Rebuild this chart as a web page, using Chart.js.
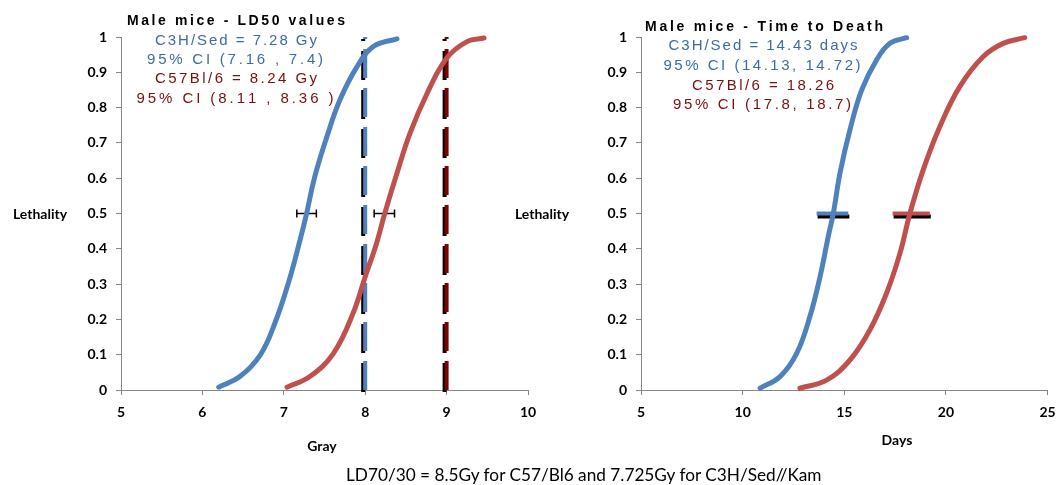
<!DOCTYPE html>
<html>
<head>
<meta charset="utf-8">
<script src="https://cdn.jsdelivr.net/npm/chart.js@4.4.1/dist/chart.umd.min.js"></script>
<style>
  body { margin: 0; background: #fff; }
  #wrap { position: relative; width: 1058px; height: 485px; overflow: hidden; }
  canvas { position: absolute; top: 0; }
  #note { position: absolute; left: 346px; top: 465px; white-space: nowrap;
          font-family: Lato, sans-serif; font-size: 16px; line-height: 20px; color: #000; }
</style>
</head>
<body>
<div id="wrap">
  <canvas id="ld" width="540" height="485" style="left:0"></canvas>
  <canvas id="ttd" width="558" height="485" style="left:500px"></canvas>
  <div id="note">LD70/30 = 8.5Gy for C57/Bl6 and 7.725Gy for C3H/Sed//Kam</div>
</div>
<script>
// --- data ---
// LD50 chart (x = Gray)
const c3hDose = [6.2, 6.46, 6.71, 6.89, 7.055, 7.2, 7.28, 7.38, 7.53, 7.69, 7.9, 8.1, 8.39];
const c3hDoseLeth = [0.008, 0.038, 0.099, 0.189, 0.302, 0.425, 0.5, 0.604, 0.718, 0.822, 0.916, 0.973, 0.995];
const c57Dose = [7.04, 7.32, 7.61, 7.85, 8.0, 8.14, 8.24, 8.39, 8.55, 8.76, 9.0, 9.25, 9.46];
const c57DoseLeth = [0.008, 0.038, 0.104, 0.217, 0.321, 0.416, 0.5, 0.614, 0.727, 0.84, 0.94, 0.987, 0.997];
const c3hLdCI = [7.16, 7.4];
const c57LdCI = [8.11, 8.36];
const doseLines = [8, 9];

// time to death chart (x = Days)
const c3hDays = [10.86, 11.84, 12.66, 13.31, 13.81, 14.21, 14.46, 14.79, 15.28, 15.86, 16.59, 17.25, 18.07];
const c3hDaysLeth = [0.005, 0.038, 0.104, 0.208, 0.321, 0.434, 0.5, 0.614, 0.737, 0.85, 0.935, 0.982, 0.998];
const c57Days = [12.82, 14.13, 15.28, 16.26, 17.08, 17.74, 18.23, 18.88, 19.7, 20.69, 21.83, 22.82, 23.88];
const c57DaysLeth = [0.005, 0.028, 0.085, 0.17, 0.274, 0.387, 0.5, 0.623, 0.746, 0.86, 0.944, 0.982, 0.998];
const c3hTtdBar = [13.64, 15.2];
const c57TtdBar = [17.38, 19.21];

const midLeth = 0.5;
const lethTicks = ['0', '0.1', '0.2', '0.3', '0.4', '0.5', '0.6', '0.7', '0.8', '0.9', '1'];
const grayTicks = ['5', '6', '7', '8', '9', '10'];
const dayTicks = ['5', '10', '15', '20', '25'];

const ldNotes = ['Male mice - LD50 values', 'C3H/Sed = 7.28 Gy', '95% CI (7.16 , 7.4)', 'C57Bl/6 = 8.24 Gy', '95% CI (8.11 , 8.36 )'];
const ttdNotes = ['Male mice - Time to Death', 'C3H/Sed = 14.43 days', '95% CI (14.13, 14.72)', 'C57Bl/6 = 18.26', '95% CI (17.8, 18.7)'];

const BLUE = '#4F81BD', RED = '#C0504D', DARKRED = '#7F0000';
const BLUETXT = '#3D6BA6', REDTXT = '#7A0E0E';
const AXIS = '#868686';
const TICKFONT = { family: 'Lato, sans-serif', size: 14, weight: 'bold' };
const NOTEFONT = '15px "Liberation Sans", Arial';

const pts = (xs, ys) => xs.map((x, i) => ({ x: x, y: ys[i] }));
const flat = (xs, y) => xs.map(x => ({ x: x, y: y }));

// draws text with even letter gaps so it spans width w (the picture uses wide spacing)
function spaced(ctx, text, cx, cy, w, font, color) {
  ctx.font = font;
  ctx.fillStyle = color;
  ctx.textAlign = 'left';
  ctx.textBaseline = 'middle';
  const chars = [...text];
  const ws = chars.map(c => ctx.measureText(c).width);
  const nat = ws.reduce((a, b) => a + b, 0);
  const gap = chars.length > 1 ? (w - nat) / (chars.length - 1) : 0;
  let x = cx - w / 2;
  chars.forEach((c, i) => { ctx.fillText(c, x, cy); x += ws[i] + gap; });
}

function plain(ctx, text, cx, cy, font, color) {
  ctx.font = font;
  ctx.fillStyle = color;
  ctx.textAlign = 'center';
  ctx.textBaseline = 'middle';
  ctx.fillText(text, cx, cy);
}

// excel style drop shadow on some datasets
const shadowPlugin = {
  id: 'shadow',
  beforeDatasetDraw(chart, args) {
    const ds = chart.data.datasets[args.index];
    if (!ds.shadow) return;
    const c = chart.ctx;
    c.save();
    c.shadowColor = '#000';
    c.shadowBlur = 0;
    c.shadowOffsetX = ds.shadow[0];
    c.shadowOffsetY = ds.shadow[1];
  },
  afterDatasetDraw(chart, args) {
    if (chart.data.datasets[args.index].shadow) chart.ctx.restore();
  }
};

function textPlugin(offset, draw) {
  return {
    id: 'texts',
    afterDraw(chart) {
      const c = chart.ctx;
      c.save();
      c.translate(-offset, 0);
      draw(c);
      c.restore();
    }
  };
}

function curve(xs, ys, color) {
  return {
    data: pts(xs, ys), borderColor: color, borderWidth: 5, pointRadius: 0,
    tension: 0.4, borderCapStyle: 'round', borderJoinStyle: 'round', clip: false
  };
}

function scales(xmin, xmax, step, xLabels, yWidth) {
  return {
    x: {
      type: 'linear', min: xmin, max: xmax,
      afterFit: s => { s.height = 95; s.paddingLeft = 0; s.paddingRight = 0; },
      grid: { drawOnChartArea: false, tickLength: 5, color: AXIS },
      border: { color: AXIS },
      ticks: { stepSize: step, autoSkip: false, maxRotation: 0, padding: 9, color: '#000', font: TICKFONT,
               callback: (v, i) => xLabels[i] }
    },
    y: {
      min: 0, max: 1,
      afterFit: s => { s.width = yWidth; },
      grid: { drawOnChartArea: false, tickLength: 5, color: AXIS },
      border: { color: AXIS },
      ticks: { stepSize: 0.1, autoSkip: false, padding: 9, color: '#000', font: TICKFONT,
               callback: (v, i) => lethTicks[i] }
    }
  };
}

const common = {
  responsive: false, animation: false, devicePixelRatio: 1,
  plugins: { legend: { display: false }, tooltip: { enabled: false } }
};

// ---- LD50 chart ----
const ldSets = [
  curve(c3hDose, c3hDoseLeth, BLUE),
  curve(c57Dose, c57DoseLeth, RED),
  { data: flat(c3hLdCI, midLeth), borderColor: '#000', borderWidth: 1.5, pointStyle: 'line', rotation: 90,
    pointRadius: 4, pointBorderWidth: 1.5, pointBorderColor: '#000' },
  { data: flat(c57LdCI, midLeth), borderColor: '#000', borderWidth: 1.5, pointStyle: 'line', rotation: 90,
    pointRadius: 4, pointBorderWidth: 1.5, pointBorderColor: '#000' }
];
doseLines.forEach((d, i) => {
  ldSets.push({
    data: [{ x: d, y: 0 }, { x: d, y: 1 }], borderColor: i === 0 ? BLUE : DARKRED, borderWidth: 4,
    borderDash: [29, 10], pointRadius: 0, shadow: [-2, 2], clip: false
  });
});

new Chart(document.getElementById('ld'), {
  type: 'line',
  data: { datasets: ldSets },
  options: Object.assign({}, common, {
    layout: { padding: { left: 0, right: 12, top: 37, bottom: 0 } },
    scales: scales(5, 10, 1, grayTicks, 121)
  }),
  plugins: [shadowPlugin, textPlugin(0, c => {
    spaced(c, ldNotes[0], 236, 21, 218, 'bold 14px "Liberation Sans", Arial', '#000');
    spaced(c, ldNotes[1], 236, 41, 162, NOTEFONT, BLUETXT);
    spaced(c, ldNotes[2], 235, 60, 176, NOTEFONT, BLUETXT);
    spaced(c, ldNotes[3], 236, 79, 162, NOTEFONT, REDTXT);
    spaced(c, ldNotes[4], 235, 99, 197, NOTEFONT, REDTXT);
    plain(c, 'Lethality', 40, 214, 'bold 14px Lato, sans-serif', '#000');
    plain(c, 'Gray', 322, 446, 'bold 14px Lato, sans-serif', '#000');
  })]
});

// ---- time to death chart ----
const ttdSets = [
  curve(c3hDays, c3hDaysLeth, BLUE),
  curve(c57Days, c57DaysLeth, RED),
  { data: flat(c3hTtdBar, midLeth), borderColor: BLUE, borderWidth: 4, pointRadius: 0, shadow: [1, 3] },
  { data: flat(c57TtdBar, midLeth), borderColor: RED, borderWidth: 4, pointRadius: 0, shadow: [1, 3] }
];

new Chart(document.getElementById('ttd'), {
  type: 'line',
  data: { datasets: ttdSets },
  options: Object.assign({}, common, {
    layout: { padding: { left: 0, right: 10.5, top: 37, bottom: 0 } },
    scales: scales(5, 25, 5, dayTicks, 141)
  }),
  plugins: [shadowPlugin, textPlugin(500, c => {
    spaced(c, ttdNotes[0], 764, 27, 238, 'bold 14px "Liberation Sans", Arial', '#000');
    spaced(c, ttdNotes[1], 763, 46, 189, NOTEFONT, BLUETXT);
    spaced(c, ttdNotes[2], 762, 66, 197, NOTEFONT, BLUETXT);
    spaced(c, ttdNotes[3], 763, 86, 142, NOTEFONT, REDTXT);
    spaced(c, ttdNotes[4], 762, 105, 178, NOTEFONT, REDTXT);
    plain(c, 'Lethality', 542, 214, 'bold 14px Lato, sans-serif', '#000');
    plain(c, 'Days', 897, 440, 'bold 14px Lato, sans-serif', '#000');
  })]
});

// stretch the footnote to the width it has in the picture
const note = document.getElementById('note');
note.style.fontSize = (16 * 476 / note.offsetWidth).toFixed(2) + 'px';
</script>
</body>
</html>
